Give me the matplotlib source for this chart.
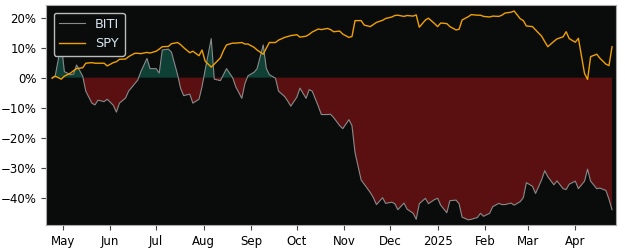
import numpy as np
import pandas as pd
import matplotlib
matplotlib.use("Agg")
import matplotlib.pyplot as plt
import matplotlib.dates as mdates
from matplotlib.ticker import FuncFormatter

# cumulative % change, sampled every 2 trading days
dates = pd.bdate_range("2024-04-24", "2025-04-25", freq="2B")

biti = [
    0, 0.5, 11.4, 2.0, 1.0, 1.2, 4.2, 0.5, -4.5, -8.5,
    -9.1, -7.5, -8.0, -7.2, -9.2, -11.5, -8.5, -6.8, -4.5, -2.0,
    -0.8, 2.0, 6.4, 3.0, 3.0, 1.5, 9.2, 9.5, 8.5, 1.0,
    -3.6, -6.0, -5.5, -8.5, -7.2, -3.0, 2.5, 13.0, -0.5, -1.0,
    1.0, 3.0, 0, -3.0, -6.9, -2.0, 0.6, 1.8, 3.0, 10.9,
    3.1, 1.0, -0.2, -4.5, -6.3, -7.8, -9.5, -6.5, -3.5, -6.9,
    -4.0, -4.5, -9.5, -12.3, -12.3, -12.2, -13.3, -16.0, -17.0, -14.0,
    -16.0, -25.0, -34.1, -35.5, -38.3, -40.0, -42.3, -40.0, -41.9, -41.5,
    -42.0, -44.0, -41.8, -43.8, -45.2, -47.2, -42.0, -40.2, -42.0, -40.6,
    -40.2, -42.5, -45.0, -41.0, -40.8, -42.0, -46.5, -47.4, -47.2, -46.6,
    -45.2, -46.2, -45.2, -43.0, -41.9, -42.3, -42.3, -41.8, -42.5, -41.3,
    -40.0, -35.0, -36.2, -38.6, -34.0, -31.0, -33.0, -35.7, -34.4, -37.0,
    -37.3, -35.5, -34.5, -37.0, -34.5, -30.5, -34.5, -37.0, -36.8, -37.6,
    -40.5, -44.0,
]

spy = [
    -0.2, 0.5, -0.5, 0.5, 1.5, 2.3, 3.0, 3.3, 4.8, 5.0,
    4.8, 4.8, 4.8, 3.9, 5.0, 5.3, 6.1, 6.2, 7.0, 8.1,
    8.1, 8.0, 8.4, 8.2, 8.8, 9.5, 10.3, 10.4, 11.3, 11.7,
    11.0, 10.0, 8.3, 8.8, 7.3, 9.2, 5.5, 3.5, 4.5, 6.6,
    9.0, 10.9, 11.5, 11.5, 11.7, 11.2, 11.2, 10.1, 9.2, 7.8,
    9.8, 11.7, 11.7, 12.5, 13.4, 13.7, 14.0, 14.3, 13.5, 13.8,
    14.4, 15.2, 16.2, 16.0, 16.4, 16.0, 15.3, 15.5, 14.5, 13.4,
    13.7, 19.0, 19.0, 17.5, 17.0, 17.7, 18.4, 19.1, 19.7, 20.2,
    20.7, 20.8, 20.4, 20.7, 20.5, 20.9, 16.8, 19.2, 19.8, 18.0,
    17.0, 18.2, 18.0, 17.0, 15.9, 16.1, 19.2, 20.3, 21.0, 20.8,
    20.8, 20.4, 20.2, 20.5, 20.4, 20.8, 21.5, 21.8, 22.2, 19.6,
    19.0, 17.2, 17.0, 15.9, 13.8, 12.0, 10.3, 12.1, 12.9, 13.6,
    15.3, 13.0, 11.8, 13.1, 1.4, -0.6, 7.0, 7.8, 6.5, 4.5,
    4.0, 10.3,
]


def pct(v, pos):
    return ("%d%%" % round(v)).replace("-", "\u2212")


def month_label(d, pos):
    d = mdates.num2date(d)
    return str(d.year) if d.month == 1 else d.strftime("%b")


def main():
    plt.rcParams["font.family"] = ["DejaVu Sans"]
    y = np.array(biti)
    fig = plt.figure(figsize=(6.25, 2.5), dpi=100)
    ax = fig.add_axes([0.0736, 0.10, 0.912, 0.88])
    ax.set_facecolor("#0a0c0c")

    # red where below zero, green where above
    ax.fill_between(dates, y, 0, where=y <= 0, interpolate=True,
                    color="#5a1010", linewidth=0)
    ax.fill_between(dates, y, 0, where=y >= 0, interpolate=True,
                    color="#0f4035", linewidth=0)
    ax.plot(dates, y, color="#8a8a8a", linewidth=0.8, label="BITI")
    ax.plot(dates, spy, color="#f0a000", linewidth=1.0, label="SPY")

    ax.set_xlim(pd.Timestamp("2024-04-20"), pd.Timestamp("2025-04-27 14:00"))
    ax.set_ylim(-49.1, 24.2)
    ax.set_yticks([-40, -30, -20, -10, 0, 10, 20])
    ax.yaxis.set_major_formatter(FuncFormatter(pct))
    ax.xaxis.set_major_locator(mdates.MonthLocator())
    ax.xaxis.set_major_formatter(FuncFormatter(month_label))
    ax.tick_params(labelsize=8.5, color="#444444", length=3.5)
    for s in ax.spines.values():
        s.set_color("#aaaaaa")

    leg = ax.legend(loc="upper left", fontsize=9.3, facecolor="#0a0c0c",
                    edgecolor="#bbbbbb", framealpha=1.0, borderaxespad=0.6)
    for t in leg.get_texts():
        t.set_color("#d8e4f0")

    fig.savefig("out.png", dpi=100)


if __name__ == "__main__":
    main()
